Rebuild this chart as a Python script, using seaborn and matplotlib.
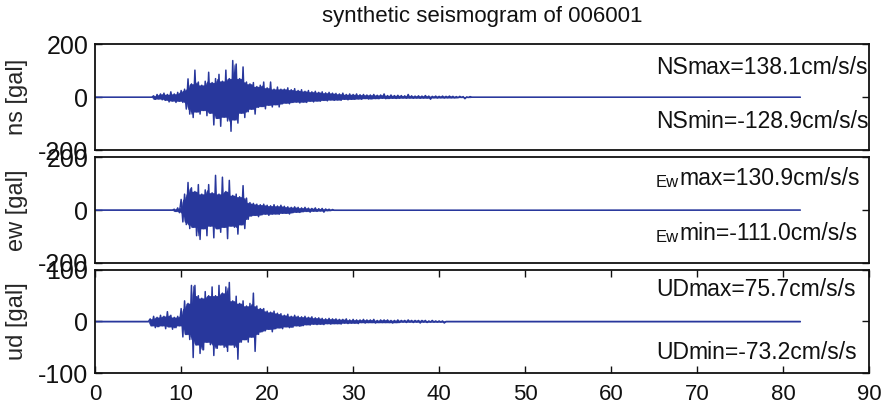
import numpy as np
import pandas as pd
import matplotlib
matplotlib.use("Agg")
import matplotlib.pyplot as plt
import seaborn as sns
from matplotlib import font_manager

# ---------------- data ----------------
title = "synthetic seismogram of 006001"
t_start = 6.0          # first sample of the listed records [s]
dt = 0.2               # sampling step of the listed records [s]
t_end = 82.0           # end of record [s]
xticks = [0, 10, 20, 30, 40, 50, 60, 70, 80, 90]

ns = [0, 0, 0, 0, 5, -8, 10, -6, 12, -10,
      15, -12, 10, -18, 20, -14, 12, -20, 18, -15,
      25, -20, 30, -45, 69, -64, 50, -77, 102, -55,
      57, -64, 45, -50, 60, -70, 94, -60, 55, -105,
      70, -80, 86, -110, 60, -75, 102, -90, 70, -128.9,
      138.1, -85, 125, -98, 70, -60, 114, -77, 57, -55,
      50, -45, 55, -64, 40, -38, 45, -35, 57, -44,
      35, -30, 57, -37, 30, -28, 38, -37, 30, -25,
      30, -22, 35, -25, 28, -20, 32, -18, 25, -22,
      28, -18, 22, -20, 25, -15, 20, -18, 22, -14,
      18, -15, 20, -12, 16, -14, 18, -10, 15, -12,
      14, -10, 12, -12, 15, -8, 10, -10, 12, -8,
      10, -8, 12, -6, 9, -8, 10, -5, 8, -7,
      8, -6, 10, -5, 7, -6, 8, -4, 12, -6,
      6, -5, 8, -4, 6, -5, 7, -4, 6, -3,
      5, -4, 10, -3, 5, -4, 4, -3, 5, -4,
      4, -3, 6, -3, 4, -8, 3, -2, 4, -3,
      3, -2, 4, -3, 3, -2, 4, -2, 3, -2,
      2, -2, 3, -1, 2, -6, 1, -1, 2, 0]

ew = [0, 0, 0, 0, 0, 0, 0, 0, 0, 0,
      0, 0, 0, 0, 0, 0, 3, -5, 8, -10,
      40, -45, 60, -55, 104, -70, 84, -65, 70, -97,
      96, -111.0, 60, -70, 76, -97, 96, -60, 65, -105,
      130.9, -70, 60, -84, 124, -65, 70, -108, 112, -60,
      55, -65, 60, -91, 50, -55, 92, -70, 45, -35,
      28, -22, 25, -20, 22, -25, 20, -18, 22, -15,
      18, -20, 16, -15, 20, -14, 15, -16, 18, -12,
      14, -12, 12, -15, 10, -10, 12, -8, 10, -9,
      8, -6, 10, -5, 7, -8, 6, -4, 8, -5,
      5, -3, 6, -8, 4, -2, 3, -2, 2, -1]

ud = [0, 0, 5, -8, 10, -12, 8, -10, 12, -8,
      10, -14, 19, -10, 12, -15, 8, -12, 10, -8,
      25, -30, 40, -25, 35, -35, 70, -70, 70, -45,
      50, -62, 45, -55, 58, -40, 50, -45, 67, -66,
      50, -52, 70, -45, 55, -50, 67, -58, 75.7, -45,
      40, -50, 49, -73.2, 35, -40, 40, -35, 30, -40,
      35, -30, 55, -58, 30, -25, 25, -20, 25, -18,
      20, -15, 18, -20, 20, -14, 16, -12, 15, -14,
      12, -10, 14, -12, 10, -11, 12, -8, 10, -9,
      9, -8, 10, -6, 8, -7, 9, -5, 7, -6,
      7, -5, 6, -6, 5, -4, 6, -5, 5, -4,
      5, -4, 4, -5, 4, -3, 5, -4, 3, -3,
      4, -3, 3, -4, 3, -2, 4, -3, 3, -2,
      3, -2, 4, -3, 2, -2, 3, -2, 3, -2,
      3, -2, 2, -3, 2, -2, 3, -2, 2, -1,
      2, -2, 3, -1, 2, -2, 2, -1, 2, -3,
      2, -1, 2, -2, 1, -1, 2, -1, 1, -1,
      1, -1, 1, -3, 0, 0, 0, 0, 0, 0]

ylabels = ["ns [gal]", "ew [gal]", "ud [gal]"]
ylims = [200, 200, 100]
yticks = [[-200, 0, 200], [-200, 0, 200], [-100, 0, 100]]
prefixes = ["NS", "Ew", "UD"]
max_texts = ["max=138.1cm/s/s", "max=130.9cm/s/s", "max=75.7cm/s/s"]
min_texts = ["min=-128.9cm/s/s", "min=-111.0cm/s/s", "min=-73.2cm/s/s"]

# ---------------- style ----------------
sns.set_style("white")
avail = {f.name for f in font_manager.fontManager.ttflist}
fams = [f for f in ["Liberation Sans Narrow", "Liberation Sans", "DejaVu Sans"]
        if f in avail]
plt.rcParams["font.family"] = fams
plt.rcParams["axes.unicode_minus"] = False
line_color = "#28379c"
text_color = "#111111"


def make_df(vals):
    s = pd.Series(np.asarray(vals, float))
    active = (s != 0).astype(float)
    # dense core of the trace: smallest neighbouring peak on each side
    hi = s.where(s > 0).rolling(5, center=True, min_periods=1).min().fillna(0)
    lo = s.where(s < 0).rolling(5, center=True, min_periods=1).max().fillna(0)
    hi, lo = hi * active, lo * active
    t = np.concatenate([[0.0], t_start + dt * np.arange(len(vals)), [t_end]])
    return pd.DataFrame({
        "t": t,
        "a": np.concatenate([[0.0], s.values, [0.0]]),
        "hi": np.concatenate([[0.0], hi.values, [0.0]]),
        "lo": np.concatenate([[0.0], lo.values, [0.0]]),
    })


def label(ax, x, y, prefix, rest):
    small = prefix == "Ew"
    t1 = ax.text(x, y, prefix, transform=ax.transData,
                 ha="left", va="baseline", fontsize=12 if small else 16.5,
                 color=text_color)
    ax.annotate(rest, xy=(1, 0), xycoords=t1, xytext=(0, 0),
                textcoords="offset points", ha="left", va="bottom",
                fontsize=16.5, color=text_color, annotation_clip=False)


fig = plt.figure(figsize=(8.81, 4.09), dpi=100)
left, width = 0.108, 0.8785
boxes = [(0.633, 0.259), (0.357, 0.259), (0.088, 0.252)]
series = [ns, ew, ud]
ymax_pos = [0.774, 0.774, 0.81]
ymin_pos = [0.264, 0.255, 0.20]

for i, (vals, (b, h)) in enumerate(zip(series, boxes)):
    ax = fig.add_axes([left, b, width, h])
    df = make_df(vals)
    ax.fill_between(df["t"], df["lo"], df["hi"], color=line_color,
                    linewidth=0.3, edgecolor=line_color)
    sns.lineplot(data=df, x="t", y="a", ax=ax, color=line_color,
                 linewidth=1.1, estimator=None, sort=False)
    ax.set_xlim(0, 90)
    lim = ylims[i]
    ax.set_ylim(-lim, lim)
    ax.set_yticks(yticks[i])
    ax.set_yticklabels([str(v) for v in yticks[i]], fontsize=18)
    ax.set_ylabel(ylabels[i], fontsize=17, labelpad=7)
    ax.set_xlabel("")
    for s in ax.spines.values():
        s.set_linewidth(1.3)
        s.set_color(text_color)
    ax.tick_params(axis="y", direction="in", length=5, left=True, right=True,
                   width=1, pad=5, colors=text_color)
    if i < 2:
        ax.set_xticks([])
    else:
        ax.set_xticks(xticks)
        ax.set_xticklabels([str(v) for v in xticks], fontsize=16)
        ax.tick_params(axis="x", direction="in", length=5, top=True,
                       bottom=True, width=1, pad=8, colors=text_color)
    y_hi = -lim + 2 * lim * ymax_pos[i]
    y_lo = -lim + 2 * lim * ymin_pos[i]
    label(ax, 65.2, y_hi - 0.12 * lim, prefixes[i], max_texts[i])
    label(ax, 65.2, y_lo - 0.12 * lim, prefixes[i], min_texts[i])
    if i == 0:
        ax.set_title(title, fontsize=16, pad=16, color=text_color)

fig.savefig("out.png", dpi=100, facecolor="white")
